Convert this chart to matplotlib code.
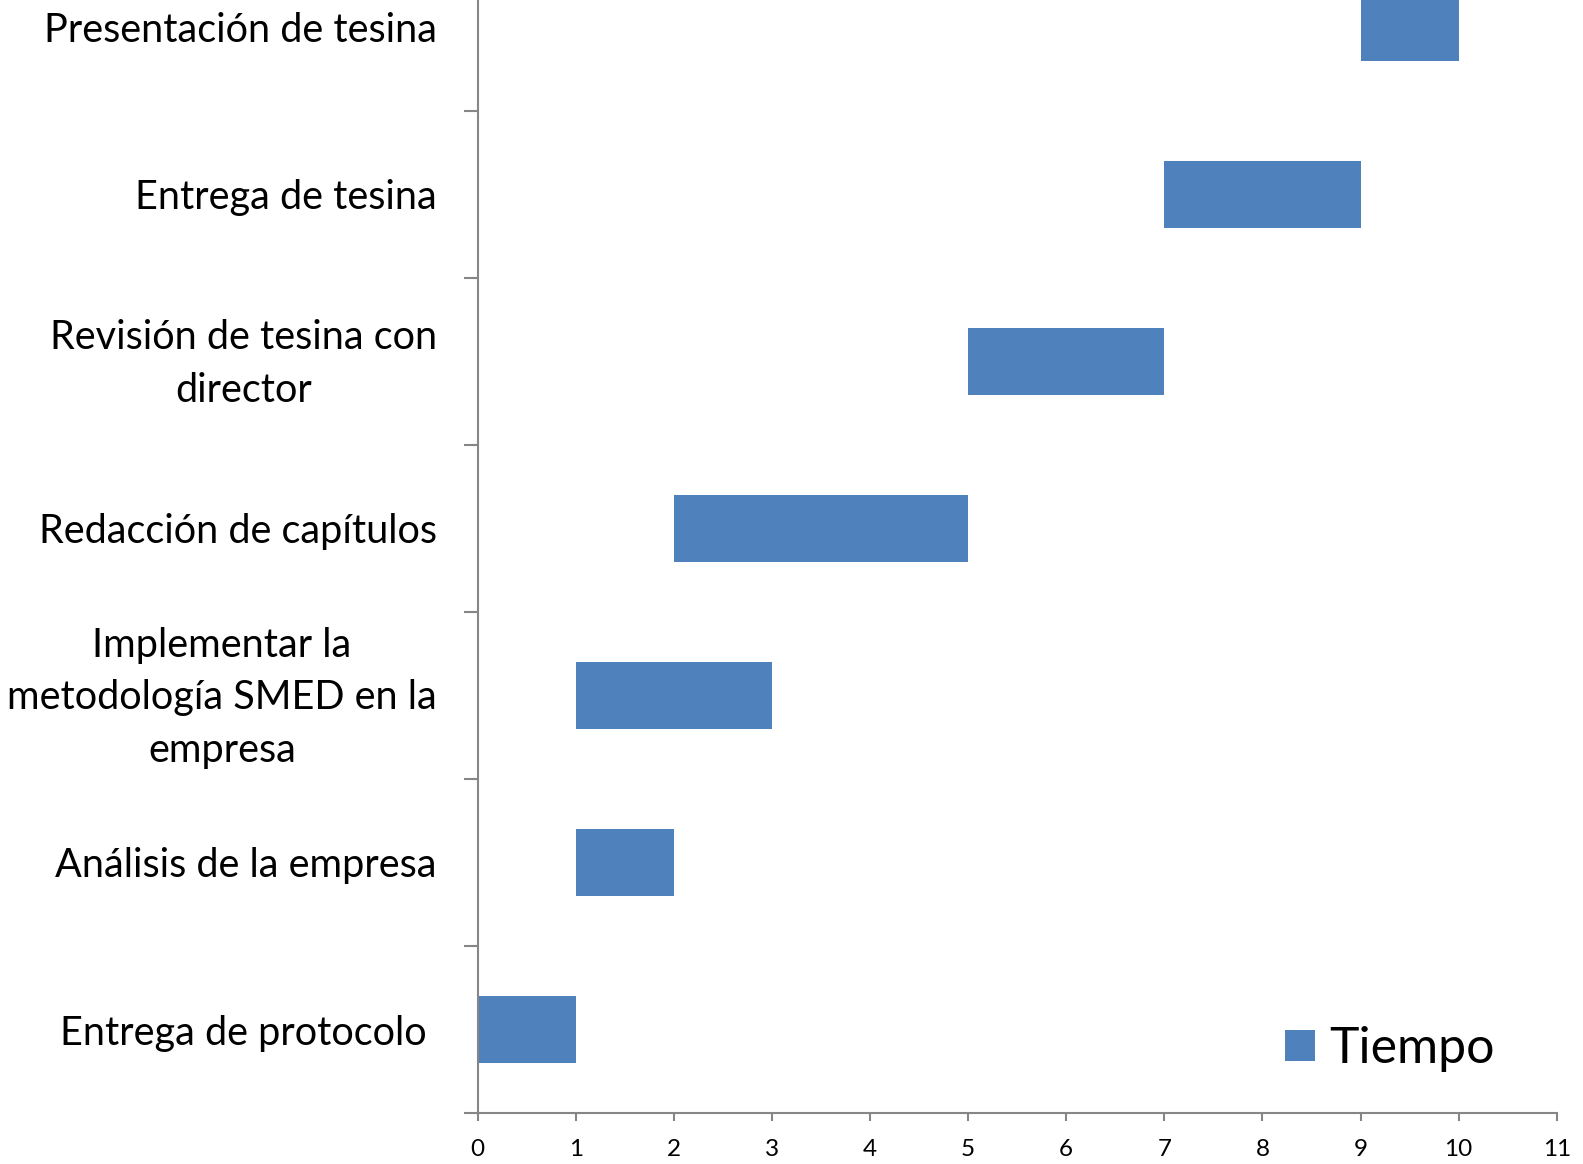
import matplotlib
matplotlib.use("Agg")
import matplotlib.pyplot as plt
import matplotlib.transforms as mtransforms
import numpy as np

tasks = ["Entrega de protocolo ", "Análisis de la empresa",
         "Implementar la\nmetodología SMED en la\nempresa",
         "Redacción de capítulos", "Revisión de tesina con\ndirector",
         "Entrega de tesina", "Presentación de tesina"]
inicio = [0, 1, 1, 2, 5, 7, 9]
tiempo = [1, 1, 2, 3, 2, 2, 1]
xticks = list(range(0, 12))

plt.rcParams['font.family'] = ['Lato', 'DejaVu Sans']

fig = plt.figure(figsize=(15.83, 11.64), dpi=100)
W, H = 1583, 1164
x0, x1 = 477.7, 1556.7
yb = 1113.0
band = 167.0
ax = fig.add_axes([x0 / W, (H - yb) / H, (x1 - x0) / W, 7 * band / H])

color = '#4F81BD'
gray = '#868686'
y = np.arange(len(tasks))
ax.barh(y, tiempo, left=inicio, height=0.4, color=color, label='Tiempo')

ax.set_xlim(0, 11)
ax.set_ylim(-0.5, len(tasks) - 0.5)
ax.set_xticks(xticks)
ax.set_xticklabels([str(v) for v in xticks])
ax.set_yticks(np.arange(-0.5, len(tasks), 1.0))
ax.set_yticklabels([])

for s in ['top', 'right']:
    ax.spines[s].set_visible(False)
for s in ['left', 'bottom']:
    ax.spines[s].set_color(gray)
    ax.spines[s].set_linewidth(1.5)

ax.tick_params(axis='x', direction='out', length=6, width=1.5, color=gray,
               labelsize=17.5, pad=13)
ax.tick_params(axis='y', which='major', direction='out', length=10, width=1.5,
               color=gray)

base = ax.get_yaxis_transform()
for yi, name in zip(y, tasks):
    dy = 9 / 100 if '\n' in name else 0
    tr = base + mtransforms.ScaledTranslation(-(477.7 - 437) / 100, dy, fig.dpi_scale_trans)
    ax.text(0, yi, name, transform=tr, ha='right', va='center_baseline',
            multialignment='center', fontsize=28.5, linespacing=1.53)

leg = ax.legend(loc='lower right',
                bbox_to_anchor=((1515 - x0) / (x1 - x0), (yb - 1092) / (7 * band)),
                frameon=False, fontsize=36, handlelength=0.6, handleheight=0.6,
                handletextpad=0.3, borderaxespad=0)

fig.savefig("out.png", dpi=100)
